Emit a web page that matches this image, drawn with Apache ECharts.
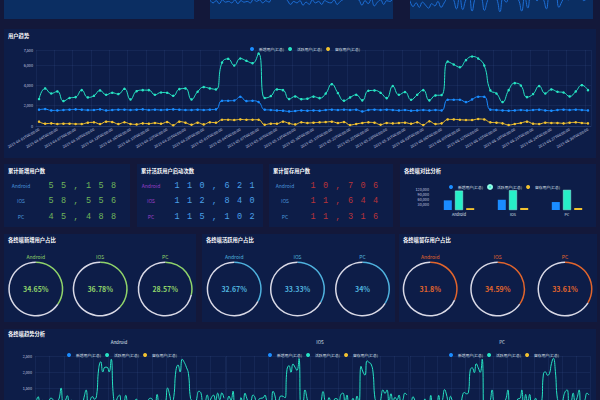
<!DOCTYPE html>
<html><head><meta charset="utf-8">
<script src="https://cdn.jsdelivr.net/npm/echarts@6/dist/echarts.min.js"></script>
<style>
html,body{margin:0;padding:0;width:600px;height:400px;overflow:hidden;background:#13183a;font-family:'Noto Sans CJK SC','Noto Sans',sans-serif;}
.p{position:absolute;background:#0d1d48;overflow:hidden;}
.tp{position:absolute;background:#0b2e62;overflow:hidden;}
.t{position:absolute;left:4px;top:3.5px;color:#fff;font-size:5.3px;line-height:6px;font-weight:bold;white-space:nowrap;z-index:2;}
.c{position:absolute;left:0;top:0;width:100%;height:100%;}
.lb{position:absolute;width:40px;text-align:center;font-size:5px;line-height:8px;white-space:nowrap;}
.dg{position:absolute;font-family:'Liberation Mono',monospace;font-size:8.5px;line-height:12px;letter-spacing:7.4px;white-space:nowrap;}
</style></head>
<body>
<div class="tp" style="left:4px;top:0;width:190px;height:18.5px"></div>
<div class="tp" style="left:210px;top:0;width:183px;height:18.5px"><div id="top2" style="position:absolute;left:0;top:-60px;width:183px;height:78px"></div></div>
<div class="tp" style="left:410px;top:0;width:183px;height:18.5px"><div id="top3" style="position:absolute;left:0;top:-60px;width:183px;height:78px"></div></div>

<div class="p" style="left:4px;top:29px;width:592px;height:129px"><div class="t">用户趋势</div><div id="trend" class="c"></div></div>

<div class="p" id="num1" style="left:4px;top:164px;width:126px;height:63px"></div>
<div class="p" id="num2" style="left:137px;top:164px;width:126px;height:63px"></div>
<div class="p" id="num3" style="left:269px;top:164px;width:124px;height:63px"></div>
<div class="p" style="left:400px;top:164px;width:196px;height:63px"><div class="t">各终端对比分析</div><div id="bar" class="c"></div></div>

<div class="p" style="left:4px;top:234px;width:192px;height:88px"><div class="t" style="top:3px">各终端新增用户占比</div><div id="g1" class="c"></div></div>
<div class="p" style="left:202px;top:234px;width:193px;height:88px"><div class="t" style="top:3px">各终端活跃用户占比</div><div id="g2" class="c"></div></div>
<div class="p" style="left:399px;top:234px;width:198px;height:88px"><div class="t" style="top:3px">各终端留存用户占比</div><div id="g3" class="c"></div></div>

<div class="p" style="left:4px;top:329px;width:592px;height:130px"><div class="t" style="top:2px">各终端趋势分析</div><div id="bottom" class="c"></div></div>

<script>
const F = "'Noto Sans CJK SC','Noto Sans',sans-serif";
const AX = '#c6cde0';
const SPL = 'rgba(70,100,170,0.28)';
const C_NEW = '#1a8cff', C_ACT = '#27e3c3', C_RET = '#f2c230';

const terminals = ['Android', 'IOS', 'PC'];
const seriesNames = ['新增用户(汇总)', '活跃用户(汇总)', '留存用户(汇总)'];

// cumulative totals per terminal
const cumNew = [55158, 58556, 45488];
const cumActive = [110621, 112840, 115102];
const cumRetain = [10706, 11644, 11316];

// daily categories 2019-04-01 .. 2019-06-30
const dates = [];
(function(){ const d = new Date(Date.UTC(2019,3,1)); for (let i=0;i<91;i++){ dates.push(d.toISOString().slice(0,19)); d.setUTCDate(d.getUTCDate()+1);} })();

// trend totals
const trendNew = [1610,1670,1540,1540,1580,1610,1640,1610,1570,1580,
1640,1540,1580,1610,1610,1580,1610,1640,1580,1610,
1580,1610,1640,1610,1580,1580,1610,1580,1610,1640,
2490,2490,2520,2890,2460,2490,2360,1610,1580,1540,
1510,1440,1480,1540,1510,1540,1510,1580,1610,1580,
1610,1580,1610,1440,1580,1610,1580,1610,1580,1540,
1580,1510,1540,1580,1540,1580,1540,2590,2590,2590,
2360,2620,2890,2880,1610,1580,1540,1510,1540,1580,
1540,1580,1610,1540,1510,1580,1610,1580,1610,1580,1540];
const trendActive = [2660,3710,3210,3410,2460,2760,2850,3540,2820,2980,
3510,3080,3280,3150,3670,2620,3440,3540,3540,3080,
3310,3280,2980,3640,3710,2620,3380,3840,3710,3610,
6260,6630,5970,6660,6430,6200,7150,2760,2950,3610,
3540,2660,2920,2650,2700,2900,2750,3200,4130,3250,
2500,2820,3080,2530,3480,3510,3280,2750,3940,3080,
3350,2590,3080,3540,2530,3020,3050,6360,6070,5800,
6500,6860,6660,5970,3510,3210,2360,3540,4230,4000,
2850,3150,3940,3210,3610,3380,3310,2920,3410,4030,3540];
const trendRetain = [430,230,260,200,230,230,200,200,330,360,
200,430,390,200,360,200,160,260,230,300,
230,390,70,430,330,130,330,160,360,330,
620,620,590,650,620,620,620,130,230,230,
430,260,160,360,300,330,360,390,430,300,
390,100,200,300,360,330,130,300,260,300,
330,230,360,100,460,200,260,650,650,620,
590,590,690,650,360,330,260,100,200,300,
430,230,200,330,300,300,260,330,360,300,260];

// per-terminal daily values
const androidAct = [1050,1230,980,1120,860,940,1000,1180,1150,900,
1080,1160,1500,1010,1100,1260,950,1120,1070,980,
1040,1100,920,1210,1440,880,1130,1230,1150,1260,
2100,2320,2000,2150,2150,2000,2400,1280,990,1200,
1280,880,960,1270,1000,960,1020,1080,1150,1040,
820,930,1050,880,1150,1180,1090,920,1300,1000,
1120,880,1020,1500,1280,1000,1230,2050,2220,2000,
2400,2300,2150,1950,1170,1080,790,1180,1400,1340,
950,1050,1280,1070,1200,1280,1100,1340,1130,1350,1180];
const iosAct = [880,1250,1120,1400,800,950,960,1200,940,1340,
1160,1020,1100,1280,1200,870,1150,1180,1190,1280,
1100,1080,990,1400,1250,870,1120,1250,1240,1190,
2080,2200,1990,2250,2150,2050,2420,900,1000,1440,
1180,880,970,880,900,970,920,1070,1390,1080,
830,1200,1030,850,1170,1160,1100,1300,1340,1030,
1280,860,1020,1180,850,1250,1010,2180,2000,1900,
2350,2300,2250,2000,1170,1070,780,1180,1440,1330,
1440,1050,1320,1070,1210,1130,1280,970,1140,1340,1280];
const pcAct = [730,1230,1110,890,800,870,890,1160,730,740,
1270,900,1080,860,1270,870,1140,1450,1280,1020,
1240,1100,1070,1030,1010,870,1250,1360,1320,1350,
2080,2130,1980,2260,2130,1990,2400,580,960,970,
1080,1440,990,890,830,970,930,1050,1160,1440,
850,1000,1000,800,1160,1170,1440,530,1300,1050,
1300,850,1040,1180,830,1000,1030,1960,2000,1900,
1950,2260,2430,2020,1170,1060,790,1180,1390,1440,
910,1050,1340,1070,1200,1440,930,950,1140,1340,1280];
const androidNew = [560,585,540,540,555,565,575,565,550,555,
575,540,555,565,565,555,565,575,555,565,
555,565,575,565,555,555,565,555,565,575,
870,870,880,1010,860,870,825,565,555,540,
530,505,520,540,530,540,530,555,565,555,
565,555,565,505,555,565,555,565,555,540,
555,530,540,555,540,555,540,905,905,905,
825,915,1010,1000,565,555,540,530,540,555,
540,555,565,540,530,555,565,555,565,555,540];
const iosNew = [595,615,565,570,580,595,605,590,580,580,
605,565,580,595,590,580,595,605,580,590,
580,595,605,590,580,585,590,580,590,605,
915,920,925,1060,905,915,870,590,580,565,
555,530,545,565,555,565,555,580,590,580,
590,580,590,530,580,590,580,590,580,565,
580,555,565,580,565,580,565,955,950,955,
870,965,1065,1055,590,580,565,555,565,580,
565,580,590,565,555,580,590,580,590,580,565];
const pcNew = [455,470,435,430,445,450,460,455,440,445,
460,435,445,450,455,445,450,460,445,455,
445,450,460,455,445,440,455,445,455,460,
705,700,715,820,695,705,665,455,445,435,
425,405,415,435,425,435,425,445,455,445,
455,445,455,405,445,455,445,455,445,435,
445,425,435,445,435,445,435,730,735,730,
665,740,815,825,455,445,435,425,435,445,
435,445,455,435,425,445,455,445,455,445,435];
const androidRet = [135,75,80,65,75,75,65,65,105,115,
65,135,125,65,115,65,50,85,75,95,
75,125,25,135,105,40,105,50,115,105,
195,200,190,205,195,200,195,40,75,75,
135,85,50,115,95,105,115,125,135,95,
125,30,65,95,115,105,40,95,85,95,
105,75,115,30,145,65,85,205,205,195,
190,185,220,205,115,105,85,30,65,95,
135,75,65,105,95,95,85,105,115,95,85];
const iosRet = [150,80,90,70,80,80,70,70,115,125,
70,150,135,70,125,70,55,90,80,105,
80,135,25,150,115,45,115,55,125,115,
215,215,205,225,215,215,215,45,80,80,
150,90,55,125,105,115,125,135,150,105,
135,35,70,105,125,115,45,105,90,105,
115,80,125,35,160,70,90,225,225,215,
205,205,240,225,125,115,90,35,70,105,
150,80,70,115,105,105,90,115,125,105,90];
const pcRet = [145,75,90,65,75,75,65,65,110,120,
65,145,130,65,120,65,55,85,75,100,
75,130,20,145,110,45,110,55,120,110,
210,205,195,220,210,205,210,45,75,75,
145,85,55,120,100,110,120,130,145,100,
130,35,65,100,120,110,45,100,85,100,
110,75,120,35,155,65,85,220,220,210,
195,200,230,220,120,110,85,35,65,100,
145,75,65,110,100,100,85,110,120,100,85];

// cropped strips at the very top
const topStrip2 = [19,15,18,14,19,16,17,15,19,14,18,16,17,15,20,17,19,15,18,16,24,28,26,25,22,18,13,17,15,18,12,16,13,19,15,17,13,18,16,15,19,13,17,20,26,30,25,21,19,12,18,14,20,11,16,19,13,18,17,21];
const topStrip3 = [18,10,15,9,16,12,8,14,11,17,9,15,22,26,20,7,24,6,19,25,4,21,27,23,5,18,26,24,20,3,22,16,25,28,21,19,4,23,8,26,22,18,25,20,7,24,21,26,9,17,23,19,25,22,20,24,18,21,26,23];

function init(id){ return echarts.init(document.getElementById(id), null, {renderer:'svg'}); }

// top strips
[['top2', topStrip2], ['top3', topStrip3]].forEach(([id, arr]) => {
  init(id).setOption({
    animation:false,
    grid:{left:0, right:0, top:0, bottom:4},
    xAxis:{type:'category', show:false, boundaryGap:false, data: arr.map((_, i) => i)},
    yAxis:{type:'value', show:false, min:0, max:100},
    series:[{type:'line', data:arr, smooth:true, showSymbol:false, lineStyle:{color:'#1e6fd6', width:1}}]
  });
});

// trend chart
const legendText = {color:'#dfe3ee', fontSize:3.75, fontFamily:F};
function lineSeries(name, data, color, extra){
  return Object.assign({name, type:'line', data, smooth:true, symbol:'circle', symbolSize:2.5,
    lineStyle:{width:1, color}, itemStyle:{color}, emphasis:{disabled:true}}, extra||{});
}
init('trend').setOption({
  animation:false,
  textStyle:{fontFamily:F},
  legend:{left:241, top:13, itemWidth:4, itemHeight:4, itemGap:4, icon:'circle', textStyle:legendText, data:seriesNames},
  grid:{left:32, right:5, top:21, bottom:32},
  xAxis:{type:'category', data:dates, axisLine:{lineStyle:{color:SPL}}, axisTick:{show:false},
    axisLabel:{color:AX, fontSize:3.75, rotate:30, interval:2, margin:3},
    splitLine:{show:true, interval:2, lineStyle:{color:SPL, width:0.5}}},
  yAxis:{type:'value', min:0, max:7500, interval:2000, axisLabel:{color:AX, fontSize:3.75, margin:3},
    axisLine:{show:false}, splitLine:{lineStyle:{color:SPL, width:0.5}}},
  series:[
    lineSeries(seriesNames[0], trendNew, C_NEW, {showAllSymbol:true}),
    lineSeries(seriesNames[1], trendActive, C_ACT, {showAllSymbol:true}),
    lineSeries(seriesNames[2], trendRetain, C_RET, {showAllSymbol:true})
  ]
});

// number panels
function numPanel(id, title, vals, labelColor, digitColor, labelCx, digitLeft){
  const el = document.getElementById(id);
  let h = '<div class="t">' + title + '</div>';
  const rows = [22, 37, 53];
  vals.forEach((v, i) => {
    h += '<div class="lb" style="left:' + (labelCx - 20) + 'px;top:' + (rows[i] - 4) + 'px;color:' + labelColor + '">' + terminals[i] + '</div>';
    h += '<div class="dg" style="left:' + digitLeft + 'px;top:' + (rows[i] - 6.5) + 'px;color:' + digitColor + '">' + v.toLocaleString('en-US') + '</div>';
  });
  el.innerHTML = h;
}
numPanel('num1', '累计新增用户数', cumNew, '#4a94dc', '#6db55a', 17, 44.5);
numPanel('num2', '累计活跃用户启动次数', cumActive, '#9b3fc9', '#4aa0e8', 14, 37.5);
numPanel('num3', '累计留存用户数', cumRetain, '#4a94dc', '#b8333a', 16, 41.5);

// bar chart
init('bar').setOption({
  animation:false,
  textStyle:{fontFamily:F},
  legend:{left:44, top:15, itemWidth:4, itemHeight:4, itemGap:4, icon:'circle', textStyle:legendText, data:seriesNames},
  grid:{left:32, right:2, top:25, bottom:17},
  xAxis:{type:'category', data:terminals, axisLine:{show:false}, axisTick:{show:false},
    axisLabel:{color:'#dfe3ee', fontSize:3.75, margin:3}},
  yAxis:{type:'value', min:0, max:120000, interval:30000, axisLine:{show:false}, axisTick:{show:false},
    axisLabel:{color:AX, fontSize:3.75, margin:3, showMinLabel:false}, splitLine:{show:false}},
  series:[
    {name:seriesNames[0], type:'bar', data:cumNew, barWidth:8, barGap:'40%', itemStyle:{color:C_NEW}},
    {name:seriesNames[1], type:'bar', data:cumActive, barWidth:8, barGap:'40%', itemStyle:{color:'#27f0c8', borderColor:'#8ffbe6', borderWidth:0.5}},
    {name:seriesNames[2], type:'bar', data:cumRetain, barWidth:8, barGap:'40%', itemStyle:{color:C_RET}}
  ]
});

// share rings
function rings(id, vals, color, cxs){
  const sum = vals.reduce((a, b) => a + b, 0);
  const series = vals.map((v, i) => {
    const pct = parseFloat((v / sum * 100).toFixed(2));
    return {type:'pie', silent:true, center:[cxs[i], 55], radius:[26, 27.5], startAngle:90, clockwise:true,
      avoidLabelOverlap:false, labelLine:{show:false},
      data:[
        {value:pct, name:terminals[i], itemStyle:{color}, label:{show:true, position:'center', formatter:pct + '%', color, fontSize:7, fontWeight:'bold', fontFamily:F}},
        {value:100 - pct, name:'', itemStyle:{color:'#d9d9e6'}, label:{show:false}}
      ]};
  });
  const graphic = terminals.map((t, i) => ({type:'text', x:cxs[i], y:22.7,
    style:{text:t, fill:color, fontSize:5, fontFamily:F, align:'center', verticalAlign:'middle'}}));
  init(id).setOption({animation:false, series, graphic});
}
rings('g1', cumNew, '#8fd36a', [31.8, 96.2, 161.2]);
rings('g2', cumActive, '#4fb2de', [32.2, 95.5, 160.5]);
rings('g3', cumRetain, '#e2652c', [31.2, 98.7, 166]);

// bottom: per-terminal trends (only the upper part lies inside the page)
const gridDefs = [{left:31, width:190}, {left:222, width:182}, {left:406, width:180}];
const titleX = [115, 316, 498];
const legendX = [58, 259, 440];
const perTerm = [[androidNew, androidAct, androidRet], [iosNew, iosAct, iosRet], [pcNew, pcAct, pcRet]];
const colors = [C_NEW, C_ACT, C_RET];
const visibleFrom = 1500; // tick labels below this value fall outside the page
const bSeries = [];
perTerm.forEach((arrs, g) => arrs.forEach((arr, k) => {
  bSeries.push(lineSeries(seriesNames[k], arr, colors[k], {xAxisIndex:g, yAxisIndex:g}));
}));
init('bottom').setOption({
  animation:false,
  textStyle:{fontFamily:F},
  legend:legendX.map(x => ({left:x, top:19, itemWidth:4, itemHeight:4, itemGap:4, icon:'circle', textStyle:legendText, data:seriesNames})),
  grid:gridDefs.map(d => ({left:d.left, width:d.width, top:27, height:80})),
  xAxis:gridDefs.map((d, g) => ({type:'category', gridIndex:g, data:dates, axisLine:{lineStyle:{color:SPL}}, axisTick:{show:false},
    axisLabel:{show:false}, splitLine:{show:true, interval:6, lineStyle:{color:SPL, width:0.5}}})),
  yAxis:gridDefs.map((d, g) => ({type:'value', gridIndex:g, min:0, max:2500, interval:500,
    axisLabel:{show:g === 0, color:AX, fontSize:3.75, margin:3,
      formatter:v => v >= visibleFrom ? v.toLocaleString('en-US') : ''},
    axisLine:{show:false}, splitLine:{lineStyle:{color:SPL, width:0.5}}})),
  graphic:terminals.map((t, i) => ({type:'text', x:titleX[i], y:13,
    style:{text:t, fill:'#dfe3ee', fontSize:4.5, fontFamily:F, align:'center', verticalAlign:'middle'}})),
  series:bSeries
});
</script>
</body></html>
